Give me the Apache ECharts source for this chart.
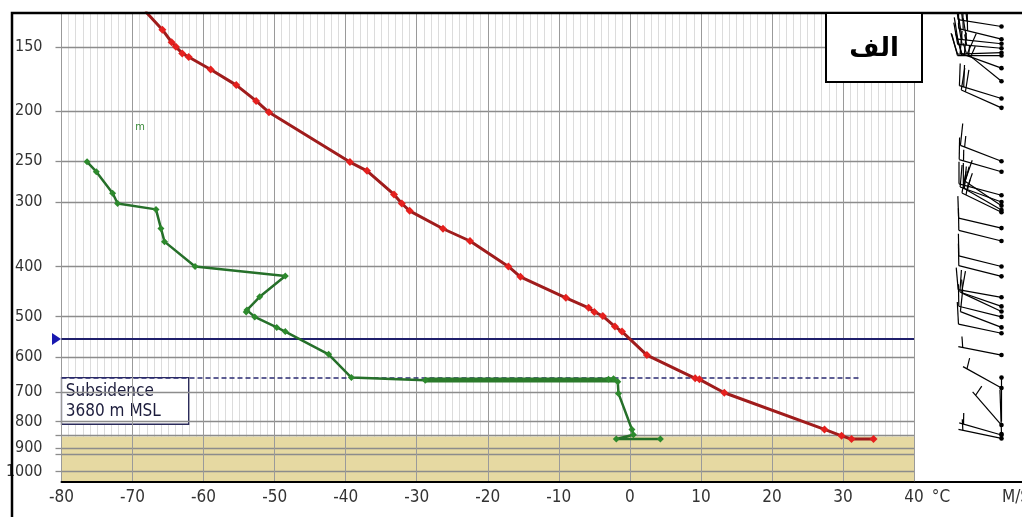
<!DOCTYPE html>
<html><head><meta charset="utf-8">
<script src="https://cdn.jsdelivr.net/npm/echarts@6/dist/echarts.min.js"></script>
<style>html,body{margin:0;padding:0;background:#fff}#c{width:1022px;height:517px}</style>
</head><body><div id="c"></div>
<script>
// ---------------- data ----------------
const tempT = [-68.2,-65.8,-64.5,-63.9,-63.0,-62.1,-59.0,-55.4,-52.6,-50.8,-39.4,-37.0,-33.2,-32.1,-31.0,-26.3,-22.5,-17.1,-15.4,-9.0,-5.8,-5.0,-3.8,-2.1,-1.1,2.4,9.2,9.8,13.3,27.4,29.8,31.2,34.3];
const tempP = [128,139,147,150,154.5,157,166,178,191,201,251,261,290,302,312,338,357,400,419,460,481,490,499,523,535,594,659,662,703,828,852,864,864];
const dewT = [-76.4,-75.1,-72.8,-72.1,-66.7,-66.0,-65.5,-61.2,-48.5,-52.1,-53.9,-54.0,-52.8,-49.7,-48.5,-42.4,-39.2,-28.8,-3.0,-2.3,-1.7,-1.6,0.3,0.5,-1.9,4.3];
const dewP = [250.7,262,288.5,302,310,337.5,358,400,417.5,458,486,490,501,525,535,592,657,664.5,662,660,669,705,828,848,864,864];
const dewThickT = [-28.8,-2.0];
const dewThickP = [664,664];
const pressureTicks = [150,200,250,300,400,500,600,700,800,850,900,925,1000];
const pressureLabels = [150,200,250,300,400,500,600,700,800,900,1000];
const groundP = 855;
const inversionP = 553;
const subsidenceP = 657;
const subsidenceEndT = 32.4;
const subsidenceText = ['Subsidence','3680 m MSL'];
const windP   = [137,145,148,151,154,156,165,175,189,197,250,262,291,300,305,311,314,337,357,400,418,459,478,489,501,525,539,594,657,688,812,845,849,862];
const windDir = [279,284,276,275,268,270,290,309,287,294,291,286,285,290,304,300,296,283,284,284,284,280,289,295,284,291,282,281,180,299,319,358,286,282];
const windSpd = [25,30,30,25,25,20,25,15,20,20,15,15,20,20,15,15,15,10,10,10,10,15,10,10,10,10,10,5,2,5,5,2,5,5];

// ---------------- chart ----------------
const LN = Math.log;
const pTop = 129, pBottom = 1047;
const labFont = "'DejaVu Sans Condensed','Liberation Sans Narrow',sans-serif";
const chart = echarts.init(document.getElementById('c'), null, {renderer:'canvas'});
const stationX = 87.5;

const option = {
  animation: false,
  backgroundColor: '#ffffff',
  grid: [
    {left: 61.5, right: 108, top: 13, bottom: 35, show: false},
    {left: 914, right: 0, top: 13, bottom: 35, show: false}
  ],
  xAxis: [
    {gridIndex:0, type:'value', min:-80, max:40, interval:1, position:'top',
     axisLine:{show:false}, axisTick:{show:false}, axisLabel:{show:false},
     splitLine:{show:true, lineStyle:{color:'#dcdcdc', width:1}}, z:0},
    {gridIndex:0, type:'value', min:-80, max:40, interval:10, position:'bottom',
     axisLine:{show:true, onZero:false, lineStyle:{color:'#000', width:2}},
     axisTick:{show:false},
     axisLabel:{margin:7, fontFamily:labFont, fontSize:17, color:'#333'},
     splitLine:{show:true, lineStyle:{color:'#9a9a9a', width:1}}, z:3},
    {gridIndex:1, type:'value', min:0, max:108,
     axisLine:{show:true, onZero:false, lineStyle:{color:'#000', width:2}},
     axisTick:{show:false}, axisLabel:{show:false}, splitLine:{show:false}}
  ],
  yAxis: [
    {gridIndex:0, type:'value', inverse:true, min:LN(pTop), max:LN(pBottom),
     axisLine:{show:false, onZero:false},
     axisTick:{show:true, length:6, customValues: pressureTicks.map(LN), lineStyle:{color:'#8c8c8c', width:1.3}},
     axisLabel:{customValues: pressureLabels.map(LN), formatter: v => String(Math.round(Math.exp(v))),
                margin:19, fontFamily:labFont, fontSize:16, color:'#333'},
     splitLine:{show:true, lineStyle:{color:'#8c8c8c', width:1.3}}, z:3},
    {gridIndex:1, type:'value', inverse:true, min:LN(pTop), max:LN(pBottom), show:false}
  ],
  series: [
    { // ground
      type:'line', xAxisIndex:1, yAxisIndex:0, data:[], z:2, silent:true,
      markArea:{silent:true, itemStyle:{color:'#e6d9a2'},
        data:[[{xAxis:-80, yAxis:LN(groundP)},{xAxis:40, yAxis:LN(pBottom)}]]}
    },
    { // annotations
      type:'line', xAxisIndex:1, yAxisIndex:0, data:[], z:6, silent:true,
      markLine:{silent:true, symbol:'none', label:{show:false},
        data:[
          [{coord:[-80, LN(inversionP)], lineStyle:{color:'#1f1f6b', width:2, type:'solid'}},{coord:[40, LN(inversionP)]}],
          [{coord:[-80, LN(subsidenceP)], lineStyle:{color:'#2a2a72', width:1.5, type:[5,3]}},{coord:[subsidenceEndT, LN(subsidenceP)]}]
        ]},
      markArea:{silent:true,
        itemStyle:{color:'#ffffff', borderColor:'#2a2a5a', borderWidth:1.3},
        label:{show:true, position:'insideTopLeft', distance:5,
               formatter: function(){ return subsidenceText.join('\n'); },
               fontFamily:labFont, fontSize:17, lineHeight:20, color:'#1c1c3c'},
        data:[[{name:'Subsidence', coord:[-80, LN(subsidenceP)]},{coord:[-62.1, LN(809)]}]]},
      markPoint:{silent:true, label:{show:false},
        data:[{coord:[-80, LN(inversionP)], symbol:'triangle', symbolSize:[12,9], symbolRotate:-90, symbolOffset:[-5,0], itemStyle:{color:'#1818b0'}}]}
    },
    { // temperature
      name:'Temperature', type:'line', xAxisIndex:1, yAxisIndex:0, z:10,
      data: tempT.map((t,i)=>[t, LN(tempP[i])]),
      lineStyle:{color:'#a01c1c', width:3},
      symbol:'diamond', symbolSize:8, itemStyle:{color:'#e5201e'}, clip:true
    },
    { // dew point
      name:'Dew point', type:'line', xAxisIndex:1, yAxisIndex:0, z:9,
      data: dewT.map((t,i)=>[t, LN(dewP[i])]),
      lineStyle:{color:'#26702a', width:2.5},
      symbol:'diamond', symbolSize:7, itemStyle:{color:'#2d8a2d'}, clip:true
    },
    {
      type:'line', xAxisIndex:1, yAxisIndex:0, z:9,
      data: dewThickT.map((t,i)=>[t, LN(dewThickP[i])]),
      lineStyle:{color:'#2b7a2b', width:5}, symbol:'none'
    },
    { // wind barbs
      type:'custom', xAxisIndex:2, yAxisIndex:1, z:10, clip:true,
      data: windP.map((p,i)=>[stationX, LN(p), windDir[i], windSpd[i]]),
      renderItem: function(params, api){
        const pt = api.coord([api.value(0), api.value(1)]);
        const d = api.value(2)*Math.PI/180, spd = api.value(3);
        const ux = Math.sin(d), uy = -Math.cos(d);
        const nx = -uy, ny = ux;
        const L = 44, B = 22, gap = 4.5;
        const tx = pt[0]+ux*L, ty = pt[1]+uy*L;
        const bx = 0.26*ux+0.97*nx, by = 0.26*uy+0.97*ny;
        const st = {stroke:'#000', lineWidth:1.2};
        const ch = [{type:'line', shape:{x1:pt[0],y1:pt[1],x2:tx,y2:ty}, style:st}];
        const s = Math.round(spd/5)*5;
        const full = Math.floor(s/10), half = (s%10)>=5;
        let pos = 0;
        for (let k=0;k<full;k++){
          const sx = tx-ux*pos, sy = ty-uy*pos;
          ch.push({type:'line', shape:{x1:sx,y1:sy,x2:sx+bx*B,y2:sy+by*B}, style:st});
          pos += gap;
        }
        if (half){
          if (full===0) pos = gap;
          const sx = tx-ux*pos, sy = ty-uy*pos;
          ch.push({type:'line', shape:{x1:sx,y1:sy,x2:sx+bx*B/2,y2:sy+by*B/2}, style:st});
        }
        ch.push({type:'circle', shape:{cx:pt[0], cy:pt[1], r:2.3}, style:{fill:'#000'}});
        return {type:'group', children:ch};
      }
    }
  ],
  graphic: [
    {type:'polyline', z:100, shape:{points:[[12,517],[12,13],[1022,13]]}, style:{stroke:'#000', lineWidth:2.5, fill:null}},
    {type:'rect', z:100, shape:{x:826, y:13, width:96, height:69}, style:{fill:'#fff', stroke:'#000', lineWidth:2}},
    {type:'text', z:101, x:874, y:49, style:{text:'الف', font:"bold 26px 'DejaVu Sans', sans-serif", fill:'#000', align:'center', verticalAlign:'middle'}},
    {type:'text', z:50, x:941, y:498, style:{text:'°C', font:"17px "+labFont, fill:'#333', align:'center', verticalAlign:'middle'}},
    {type:'text', z:50, x:1002, y:498, style:{text:'M/S', font:"17px "+labFont, fill:'#333', align:'left', verticalAlign:'middle'}},
    {type:'text', z:50, x:140, y:127, style:{text:'m', font:"11px "+labFont, fill:'#3a8a3a', align:'center', verticalAlign:'middle'}}
  ]
};
chart.setOption(option);
</script>
</body></html>
